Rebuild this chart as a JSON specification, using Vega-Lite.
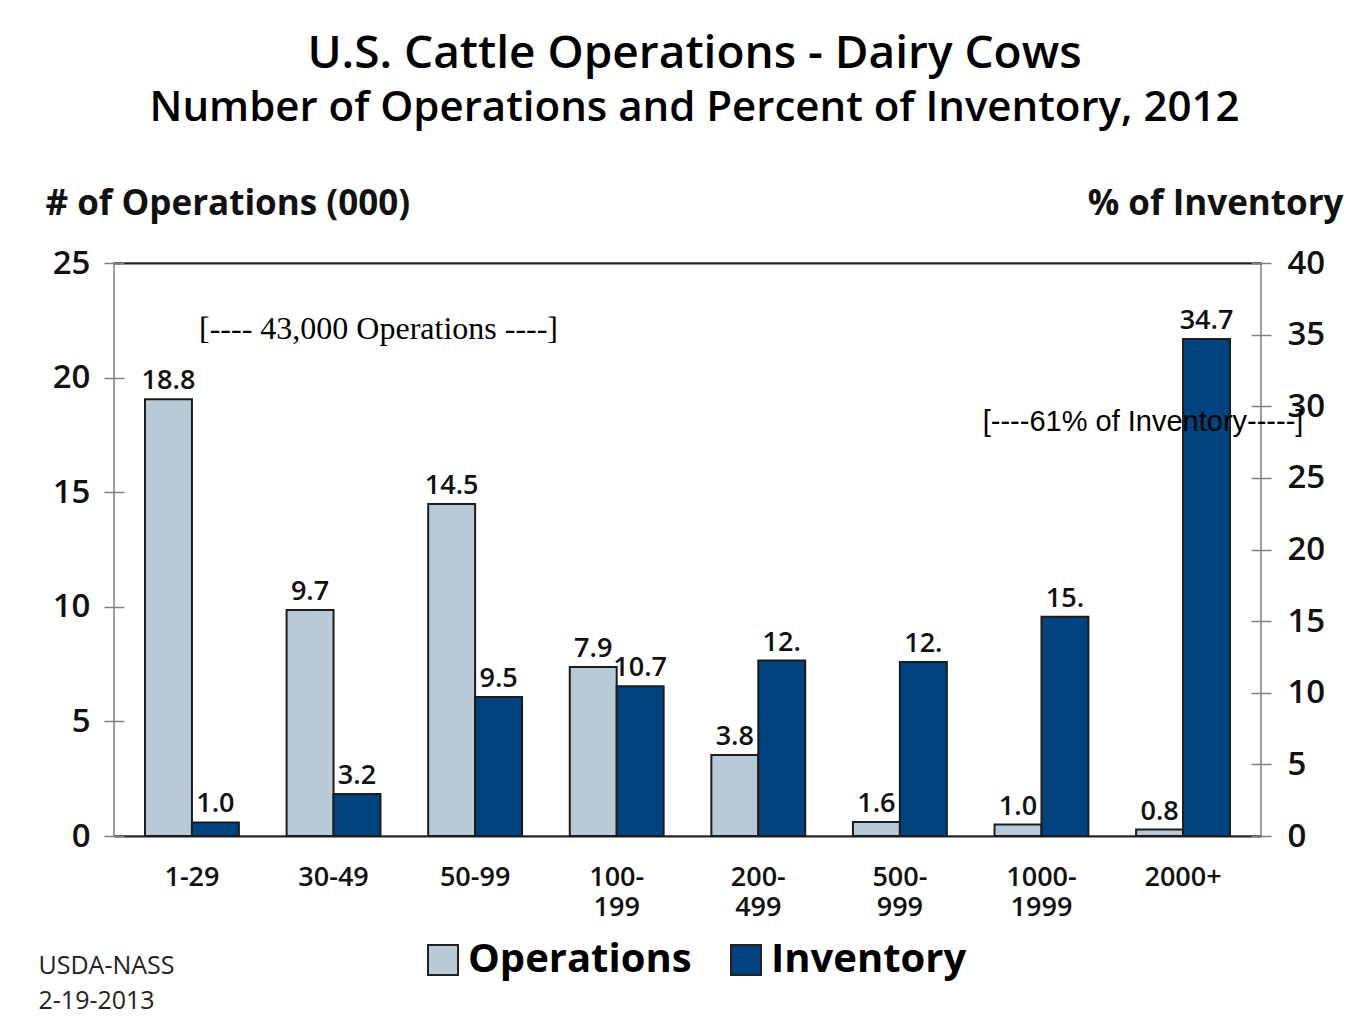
{
  "$schema": "https://vega.github.io/schema/vega-lite/v6.json",
  "width": 1147,
  "height": 573,
  "autosize": "none",
  "padding": {"left": 114, "top": 263, "right": 102, "bottom": 188},
  "background": "white",
  "datasets": {
    "bars": [
      {"size": "1-29", "series": "Operations", "value": 19.05, "label": "18.8"},
      {"size": "1-29", "series": "Inventory", "value": 0.95, "label": "1.0"},
      {"size": "30-49", "series": "Operations", "value": 9.86, "label": "9.7"},
      {"size": "30-49", "series": "Inventory", "value": 2.93, "label": "3.2"},
      {"size": "50-99", "series": "Operations", "value": 14.49, "label": "14.5"},
      {"size": "50-99", "series": "Inventory", "value": 9.7, "label": "9.5"},
      {"size": "100-199", "series": "Operations", "value": 7.37, "label": "7.9"},
      {"size": "100-199", "series": "Inventory", "value": 10.45, "label": "10.7"},
      {"size": "200-499", "series": "Operations", "value": 3.53, "label": "3.8"},
      {"size": "200-499", "series": "Inventory", "value": 12.25, "label": "12."},
      {"size": "500-999", "series": "Operations", "value": 0.61, "label": "1.6"},
      {"size": "500-999", "series": "Inventory", "value": 12.15, "label": "12."},
      {"size": "1000-1999", "series": "Operations", "value": 0.5, "label": "1.0"},
      {"size": "1000-1999", "series": "Inventory", "value": 15.3, "label": "15."},
      {"size": "2000+", "series": "Operations", "value": 0.28, "label": "0.8"},
      {"size": "2000+", "series": "Inventory", "value": 34.7, "label": "34.7"}
    ],
    "notesOps": [
      {"size": "30-49", "value": 21.7, "note": "[---- 43,000 Operations ----]"}
    ],
    "notesInv": [
      {"size": "2000+", "value": 28.3, "note": "[----61% of Inventory-----]"}
    ]
  },
  "title": {
    "text": "U.S. Cattle Operations - Dairy Cows",
    "subtitle": "Number of Operations and Percent of Inventory, 2012"
  },
  "layer": [
    {
      "layer": [
        {
          "data": {"name": "bars"},
          "transform": [{"filter": "datum.series == 'Operations'"}],
          "mark": {"type": "bar", "stroke": "#1c1c1c", "strokeWidth": 2},
          "encoding": {
            "x": {"field": "size", "type": "nominal", "sort": null,
                  "scale": {"domain": ["1-29","30-49","50-99","100-199","200-499","500-999","1000-1999","2000+"], "paddingInner": 0.337, "paddingOuter": 0.219},
                  "axis": {"orient": "bottom", "title": ["USDA-NASS", "2-19-2013"]}},
            "xOffset": {"field": "series", "type": "nominal", "scale": {"domain": ["Operations", "Inventory"], "paddingInner": 0, "paddingOuter": 0}},
            "y": {"field": "value", "type": "quantitative", "scale": {"domain": [0, 25], "nice": false},
                  "axis": {"orient": "left", "title": "# of Operations (000)", "values": [0,5,10,15,20,25]}},
            "color": {"field": "series", "type": "nominal", "scale": {"domain": ["Operations", "Inventory"], "range": ["#b9c9d6", "#00437f"]}, "legend": {"title": null}}
          }
        },
        {
          "data": {"name": "bars"},
          "transform": [{"filter": "datum.series == 'Operations'"}],
          "mark": {"type": "text", "font": "Open Sans", "fontSize": 27, "fontWeight": 600, "baseline": "alphabetic", "dy": -10, "color": "#111"},
          "encoding": {
            "x": {"field": "size", "type": "nominal", "sort": null,
                  "axis": {"orient": "bottom", "title": ["USDA-NASS", "2-19-2013"]}},
            "xOffset": {"field": "series", "type": "nominal"},
            "y": {"field": "value", "type": "quantitative",
                  "axis": {"orient": "left", "title": "# of Operations (000)", "values": [0,5,10,15,20,25]}},
            "text": {"field": "label"}
          }
        },
        {
          "data": {"name": "notesOps"},
          "mark": {"type": "text", "font": "Liberation Serif", "fontSize": 32, "baseline": "alphabetic", "dx": 45, "color": "#000"},
          "encoding": {
            "x": {"field": "size", "type": "nominal", "sort": null,
                  "axis": {"orient": "bottom", "title": ["USDA-NASS", "2-19-2013"]}},
            "y": {"field": "value", "type": "quantitative",
                  "axis": {"orient": "left", "title": "# of Operations (000)", "values": [0,5,10,15,20,25]}},
            "text": {"field": "note"}
          }
        }
      ]
    },
    {
      "layer": [
        {
          "data": {"name": "bars"},
          "transform": [{"filter": "datum.series == 'Inventory'"}],
          "mark": {"type": "bar", "stroke": "#1c1c1c", "strokeWidth": 2},
          "encoding": {
            "x": {"field": "size", "type": "nominal", "sort": null, "axis": {"orient": "top", "title": null}},
            "xOffset": {"field": "series", "type": "nominal"},
            "y": {"field": "value", "type": "quantitative", "scale": {"domain": [0, 40], "nice": false},
                  "axis": {"orient": "right", "title": "% of Inventory", "values": [0,5,10,15,20,25,30,35,40]}},
            "color": {"field": "series", "type": "nominal", "legend": {"title": null}}
          }
        },
        {
          "data": {"name": "bars"},
          "transform": [{"filter": "datum.series == 'Inventory'"}],
          "mark": {"type": "text", "font": "Open Sans", "fontSize": 27, "fontWeight": 600, "baseline": "alphabetic", "dy": -10, "color": "#111"},
          "encoding": {
            "x": {"field": "size", "type": "nominal", "sort": null, "axis": {"orient": "top", "title": null}},
            "xOffset": {"field": "series", "type": "nominal"},
            "y": {"field": "value", "type": "quantitative",
                  "axis": {"orient": "right", "title": "% of Inventory", "values": [0,5,10,15,20,25,30,35,40]}},
            "text": {"field": "label"}
          }
        },
        {
          "data": {"name": "notesInv"},
          "mark": {"type": "text", "font": "Liberation Sans", "fontSize": 29, "baseline": "alphabetic", "dx": -40, "color": "#000"},
          "encoding": {
            "x": {"field": "size", "type": "nominal", "sort": null, "axis": {"orient": "top", "title": null}},
            "y": {"field": "value", "type": "quantitative",
                  "axis": {"orient": "right", "title": "% of Inventory", "values": [0,5,10,15,20,25,30,35,40]}},
            "text": {"field": "note"}
          }
        }
      ]
    }
  ],
  "resolve": {"scale": {"y": "independent"}, "axis": {"x": "independent", "y": "independent"}},
  "config": {
    "font": "Open Sans",
    "view": {"stroke": "#808080", "strokeWidth": 1.5},
    "title": {
      "font": "Open Sans", "fontSize": 46, "fontWeight": 600, "color": "#000",
      "subtitleFont": "Open Sans", "subtitleFontSize": 42, "subtitleFontWeight": 600, "subtitleColor": "#000",
      "anchor": "middle", "frame": "group", "offset": 56, "dx": 7, "subtitlePadding": 10
    },
    "axisBottom": {
      "domainColor": "#222", "domainWidth": 2, "ticks": false, "grid": false,
      "labelFont": "Open Sans", "labelFontSize": 27, "labelFontWeight": 600, "labelColor": "#111",
      "labelPadding": 28, "labelLineHeight": 30, "labelAngle": 0,
      "labelExpr": "length(datum.label) > 5 ? [slice(datum.label, 0, indexof(datum.label, '-') + 1), slice(datum.label, indexof(datum.label, '-') + 1)] : datum.label",
      "titleFont": "Open Sans", "titleFontSize": 25, "titleFontWeight": 400, "titleColor": "#222",
      "titleAnchor": "start", "titleAlign": "left", "titleBaseline": "alphabetic", "titleX": -76, "titleY": 137, "titleLineHeight": 35
    },
    "axisTop": {"domainColor": "#222", "domainWidth": 2, "ticks": false, "labels": false, "grid": false},
    "axisLeft": {
      "offset": -10, "tickSize": 20, "tickColor": "#808080", "tickWidth": 1.5, "domain": false, "grid": false,
      "labelFont": "Open Sans", "labelFontSize": 33, "labelFontWeight": 600, "labelColor": "#111", "labelPadding": 14,
      "titleFont": "Open Sans", "titleFontSize": 35, "titleFontWeight": 700, "titleColor": "#111",
      "titleAngle": 0, "titleAlign": "left", "titleBaseline": "alphabetic", "titleX": -79, "titleY": -49
    },
    "axisRight": {
      "offset": -10, "tickSize": 20, "tickColor": "#808080", "tickWidth": 1.5, "domain": false, "grid": false,
      "labelFont": "Open Sans", "labelFontSize": 33, "labelFontWeight": 600, "labelColor": "#111", "labelPadding": 16,
      "titleFont": "Open Sans", "titleFontSize": 35, "titleFontWeight": 700, "titleColor": "#111",
      "titleAngle": 0, "titleAlign": "right", "titleBaseline": "alphabetic", "titleX": 92, "titleY": -49
    },
    "legend": {
      "orient": "none", "legendX": 309, "legendY": 677, "direction": "horizontal",
      "symbolType": "square", "symbolSize": 900, "symbolStrokeColor": "#222", "symbolStrokeWidth": 2, "symbolOpacity": 1,
      "labelFont": "Open Sans", "labelFontSize": 40, "labelFontWeight": 700, "labelColor": "#000",
      "labelOffset": 5, "columnPadding": 34, "labelLimit": 400
    }
  }
}
